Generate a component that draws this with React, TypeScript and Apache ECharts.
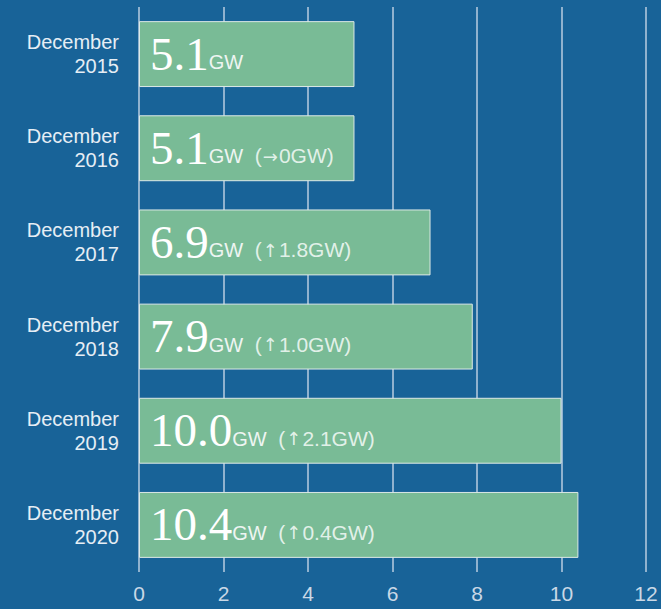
import React, { useEffect, useRef } from "react";
import * as echarts from "echarts";

const categories = ["December\n2015", "December\n2016", "December\n2017", "December\n2018", "December\n2019", "December\n2020"];
const values = [5.1, 5.1, 6.9, 7.9, 10.0, 10.4];
const valueLabels = ["5.1", "5.1", "6.9", "7.9", "10.0", "10.4"];
const changeArrows = ["", "→", "↑", "↑", "↑", "↑"];
const changeValues = ["", "0GW", "1.8GW", "1.0GW", "2.1GW", "0.4GW"];
const xTicks = [0, 2, 4, 6, 8, 10, 12];

export default function App() {
  const ref = useRef<HTMLDivElement>(null);
  useEffect(() => {
    if (!ref.current) return;
    const chart = echarts.init(ref.current, null, { renderer: "svg" });
    const small = {
      fontSize: 20,
      color: "rgba(240,248,244,0.9)",
      lineHeight: 40,
      verticalAlign: "bottom",
      padding: [0, 0, 5, 0],
    };
    chart.setOption({
      animation: false,
      backgroundColor: "#186398",
      grid: { left: 139, right: 15, top: 7, bottom: 37, containLabel: false },
      xAxis: {
        type: "value",
        min: xTicks[0],
        max: xTicks[xTicks.length - 1],
        interval: 2,
        axisLine: { show: false },
        axisTick: { show: false },
        splitLine: { show: true, lineStyle: { color: "#b8cde0", width: 1.5 } },
        axisLabel: { color: "#c9d8e6", fontSize: 21, fontFamily: "Liberation Sans", margin: 11 },
      },
      yAxis: {
        type: "category",
        inverse: true,
        data: categories,
        axisLine: { show: false },
        axisTick: { show: false },
        axisLabel: {
          color: "#e6eef5",
          fontSize: 20,
          lineHeight: 24,
          fontFamily: "Liberation Sans",
          margin: 20,
          align: "right",
        },
      },
      series: [
        {
          type: "bar",
          data: values,
          barCategoryGap: "30%",
          itemStyle: { color: "#79bb96", borderColor: "#dce9e6", borderWidth: 1 },
          label: {
            show: true,
            position: "insideLeft",
            distance: 11,
            formatter: (p: any) => {
              const i = p.dataIndex;
              let s = `{num|${valueLabels[i]}}{gw|GW}`;
              if (changeValues[i]) {
                s += `{ch|  (}{arr|${changeArrows[i]}}{ch|${changeValues[i]})}`;
              }
              return s;
            },
            rich: {
              num: {
                fontFamily: "Liberation Serif",
                fontSize: 47,
                color: "#ffffff",
                lineHeight: 46,
                verticalAlign: "bottom",
              },
              gw: { ...small, fontFamily: "Liberation Sans", color: "#eef5f2" },
              ch: { ...small, fontFamily: "Liberation Sans", fontSize: 21 },
              arr: { ...small, fontFamily: "DejaVu Sans", fontSize: 18, padding: [0, 1, 6, 1] },
            },
          },
        },
      ],
    });
    return () => chart.dispose();
  }, []);
  return <div ref={ref} style={{ position: "fixed", left: 0, top: 0, width: 661, height: 609 }} />;
}
